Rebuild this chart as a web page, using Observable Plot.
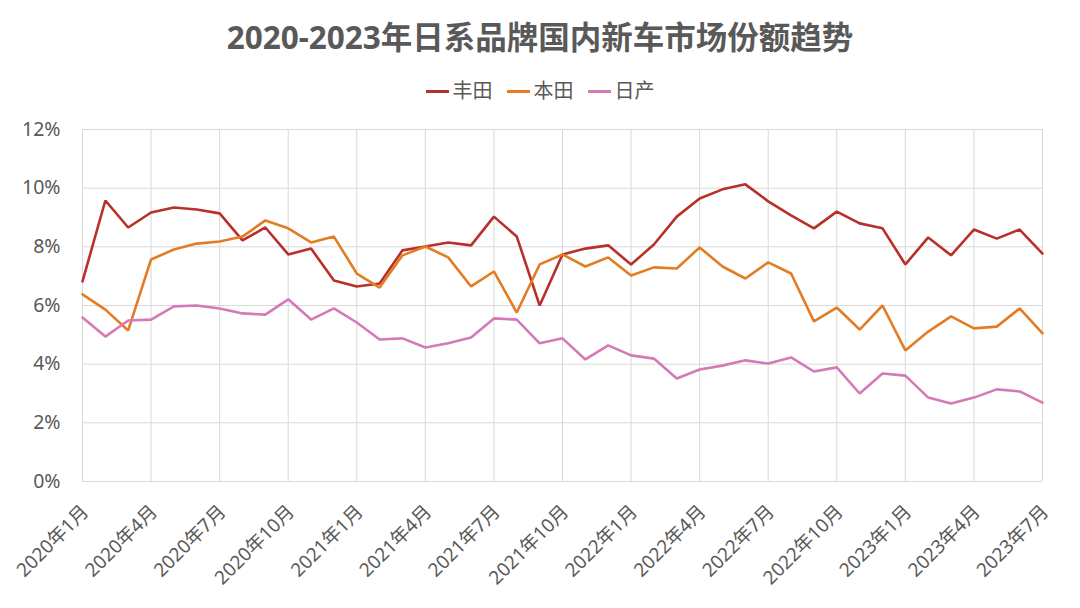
<!DOCTYPE html>
<html>
<head>
<meta charset="utf-8">
<script src="https://cdn.jsdelivr.net/npm/d3@7"></script>
<script src="https://cdn.jsdelivr.net/npm/@observablehq/plot@0.6"></script>
<style>
  html, body { margin: 0; padding: 0; background: #fff; }
  body { width: 1080px; height: 608px; overflow: hidden; font-family: "Noto Sans", "Noto Sans CJK SC", sans-serif; color: #595959; }
  #title { height: 76px; line-height: 74px; text-align: center; font-size: 31.5px; font-weight: bold; color: #595959; }
  #legend { height: 28px; line-height: 28px; text-align: center; font-size: 20px; color: #595959; font-family: "Noto Sans CJK SC", sans-serif; }
  #legend .item { display: inline-block; margin: 0 7px; }
  #legend .sw { display: inline-block; width: 23px; height: 3px; vertical-align: middle; margin-right: 4px; position: relative; top: -1px; }
  #chart svg { display: block; }
</style>
</head>
<body>
<div id="title">2020-2023年日系品牌国内新车市场份额趋势</div>
<div id="legend"></div>
<div id="chart"></div>
<script>
const months = [
  "2020年1月","2020年2月","2020年3月","2020年4月","2020年5月","2020年6月","2020年7月","2020年8月","2020年9月","2020年10月","2020年11月","2020年12月",
  "2021年1月","2021年2月","2021年3月","2021年4月","2021年5月","2021年6月","2021年7月","2021年8月","2021年9月","2021年10月","2021年11月","2021年12月",
  "2022年1月","2022年2月","2022年3月","2022年4月","2022年5月","2022年6月","2022年7月","2022年8月","2022年9月","2022年10月","2022年11月","2022年12月",
  "2023年1月","2023年2月","2023年3月","2023年4月","2023年5月","2023年6月","2023年7月"
];
const tickLabels = ["2020年1月","2020年4月","2020年7月","2020年10月","2021年1月","2021年4月","2021年7月","2021年10月","2022年1月","2022年4月","2022年7月","2022年10月","2023年1月","2023年4月","2023年7月"];
const yTicks = [0, 2, 4, 6, 8, 10, 12];

const seriesNames = ["丰田", "本田", "日产"];
const seriesColors = ["#B8302A", "#E37C22", "#D47AB6"];

const toyota = [6.82,9.58,8.66,9.17,9.34,9.27,9.14,8.22,8.66,7.74,7.94,6.85,
  6.65,6.75,7.88,8.01,8.15,8.05,9.03,8.35,6.0,7.74,7.94,8.05,
  7.40,8.08,9.03,9.65,9.96,10.13,9.55,9.07,8.63,9.2,8.8,8.63,
  7.40,8.32,7.71,8.59,8.28,8.59,7.77];
const honda = [6.38,5.86,5.15,7.57,7.91,8.11,8.18,8.35,8.9,8.63,8.15,8.35,
  7.09,6.61,7.71,8.01,7.64,6.65,7.16,5.76,7.40,7.74,7.33,7.64,
  7.02,7.30,7.26,7.98,7.33,6.92,7.47,7.09,5.46,5.93,5.18,6.0,
  4.47,5.11,5.63,5.22,5.28,5.90,5.05];
const nissan = [5.59,4.94,5.49,5.52,5.97,6.0,5.90,5.73,5.69,6.21,5.52,5.90,
  5.42,4.84,4.88,4.57,4.71,4.91,5.56,5.52,4.71,4.88,4.16,4.64,
  4.30,4.19,3.51,3.82,3.95,4.13,4.02,4.23,3.75,3.89,3.0,3.68,
  3.61,2.86,2.66,2.86,3.14,3.07,2.69];

const seriesValues = [toyota, honda, nissan];
const data = [];
seriesNames.forEach((name, s) => {
  seriesValues[s].forEach((v, i) => data.push({month: months[i], value: v, brand: name}));
});

// legend
const legend = document.getElementById("legend");
seriesNames.forEach((name, s) => {
  const item = document.createElement("span");
  item.className = "item";
  const sw = document.createElement("span");
  sw.className = "sw";
  sw.style.background = seriesColors[s];
  item.appendChild(sw);
  item.appendChild(document.createTextNode(name));
  legend.appendChild(item);
});

const chart = Plot.plot({
  width: 1080,
  height: 504,
  marginLeft: 82,
  marginRight: 38,
  marginTop: 25,
  marginBottom: 127,
  style: {fontFamily: '"Noto Sans", "Noto Sans CJK SC", sans-serif', color: "#595959", background: "#fff"},
  x: {type: "point", domain: months, padding: 0, label: null},
  y: {domain: [0, 12], label: null},
  color: {domain: seriesNames, range: seriesColors},
  marks: [
    Plot.gridY(yTicks, {stroke: "#d9d9d9", strokeOpacity: 1, strokeWidth: 1}),
    Plot.gridX(tickLabels, {stroke: "#d9d9d9", strokeOpacity: 1, strokeWidth: 1}),
    Plot.axisY(yTicks, {tickSize: 0, tickPadding: 22, tickFormat: d => d + "%", fontSize: 19.5, fill: "#595959", label: null}),
    Plot.axisX(tickLabels, {tickSize: 0, tickPadding: 27, dx: 3, tickRotate: -45, fontSize: 19, fill: "#595959", label: null}),
    Plot.line(data, {x: "month", y: "value", z: "brand", stroke: "brand", strokeWidth: 2.6, strokeLinejoin: "miter", curve: "linear"})
  ]
});
document.getElementById("chart").appendChild(chart);
</script>
</body>
</html>
